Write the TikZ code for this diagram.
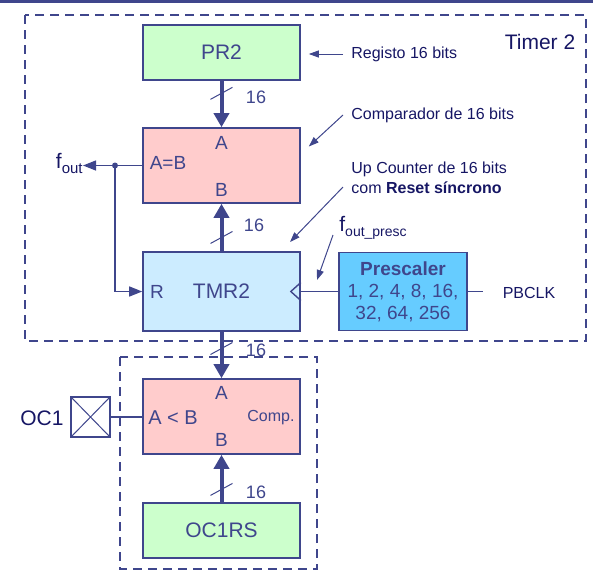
\documentclass[tikz,border=0pt]{standalone}
\usepackage{fontspec}
\setmainfont{Liberation Sans}
\usetikzlibrary{arrows.meta}

\definecolor{lineblue}{RGB}{63,70,140}
\definecolor{navy}{RGB}{22,22,100}
\definecolor{regfill}{RGB}{204,255,204}
\definecolor{cmpfill}{RGB}{255,204,204}
\definecolor{cntfill}{RGB}{204,236,255}
\definecolor{prefill}{RGB}{102,204,255}

\newcommand{\fsz}[1]{\fontsize{#1}{#1}\selectfont}

\tikzset{every picture/.style={line width=0.75pt},
  blk/.style={draw=lineblue, line width=1.6pt, text=lineblue, minimum width=157, minimum height=55, inner sep=0, font=\fsz{21}},
  frame/.style={draw=lineblue, line width=1.3pt, dash pattern=on 9pt off 6pt},
  bus/.style={draw=lineblue, line width=4pt, -{Triangle[length=14pt,width=15pt]}},
  slash/.style={draw=lineblue, line width=1pt},
  wire/.style={draw=lineblue, line width=1.4pt},
  ptr/.style={draw=lineblue, line width=1pt, -{Triangle[length=10pt,width=7pt]}},
  port/.style={text=lineblue, inner sep=0, font=\fsz{19}},
  num/.style={text=lineblue, inner sep=0, font=\fsz{18}},
  lbl/.style={text=navy, inner sep=0, font=\fsz{16}}}

\begin{document}
\begin{tikzpicture}[x=1pt,y=1pt,yscale=-1]
	\useasboundingbox (0,0) rectangle (593,571);

	% top rule
	\draw[lineblue, line width=3pt] (0,1.5) -- (593,1.5);
	% dashed frames
	\draw[frame] (25,15) rectangle (586,341);
	\draw[frame] (120,357) rectangle (317,569);

	% blocks
	\node[blk, fill=regfill] (pr2) at (221.5,52.5) {PR2};
	\node[blk, fill=cmpfill, minimum height=75] (cmp) at (221.5,165.5) {};
	\node[blk, fill=cntfill, minimum height=79] (tmr) at (221.5,291.5) {TMR2};
	\node[blk, fill=prefill, minimum width=128, minimum height=78, align=center, font=\fontsize{19}{22}\selectfont] (presc) at (403,291.5) {\textbf{Prescaler}\\1, 2, 4, 8, 16,\\32, 64, 256};
	\node[blk, fill=cmpfill, minimum height=75] (cmpb) at (221.5,416.5) {};
	\node[blk, fill=regfill] (oc1rs) at (221.5,530.5) {OC1RS};

	% port labels
	\node[port] (cmpa) at (221.5,143) {A};
	\node[port] (cmpbb) at (221.5,190) {B};
	\node[port] (aeqb) at (168,163) {A=B};
	\node[port] (rst) at (157,292) {R};
	\node[port] (cmpba) at (221.5,393) {A};
	\node[port] (cmpbbb) at (221.5,440) {B};
	\node[port, font=\fsz{20}] (altb) at (173,418) {A < B};
	\node[lbl, text=lineblue] (compl) at (271,418) {Comp.};

	% 16 bit buses
	\draw[bus] (pr2) -- coordinate[pos=.27] (s1) (cmp);
	\draw[slash] ([shift={(-11,6)}]s1) -- ([shift={(11,-6)}]s1);
	\node[num] (n1) at (256,97) {16};
	\draw[bus] (tmr) -- coordinate[pos=.29] (s2) (cmp);
	\draw[slash] ([shift={(-11,6)}]s2) -- ([shift={(11,-6)}]s2);
	\node[num] (n2) at (254,225) {16};
	\draw[bus] (tmr) -- coordinate[pos=.36] (s3) (cmpb);
	\draw[slash] ([shift={(-11,6)}]s3) -- ([shift={(11,-6)}]s3);
	\node[num] (n3) at (256,350) {16};
	\draw[bus] (oc1rs) -- coordinate[pos=.27] (s4) (cmpb);
	\draw[slash] ([shift={(-11,6)}]s4) -- ([shift={(11,-6)}]s4);
	\node[num] (n4) at (256,492) {16};

	% f_out and reset
	\node[lbl, anchor=east, font=\fsz{21}] (fout) at (83,163) {f{\fsz{15}\raisebox{-5pt}{out}}};
	\coordinate (jn) at (115,165.5);
	\draw[wire] (cmp.west) -- (jn);
	\draw[wire, -{Triangle[length=13pt,width=10pt]}] (jn) -- (jn -| fout.east);
	\fill[lineblue] (jn) circle (3);
	\draw[wire, -{Triangle[length=13pt,width=10pt]}] (jn) |- (tmr.west);

	% clock input
	\draw[wire] (presc.west) -- (tmr.east);
	\draw[wire] ([yshift=-9]tmr.east) -- ([xshift=-10]tmr.east) -- ([yshift=9]tmr.east);
	\node[lbl] (pbclk) at (529,293) {PBCLK};
	\draw[wire, shorten >=19] (presc.east) -- (presc.east -| pbclk.west);

	% OC1 pin
	\node[draw=lineblue, line width=1.2pt, minimum width=39, minimum height=40, inner sep=0] (pin) at (90.5,417) {};
	\draw[lineblue, line width=1pt] (pin.north west) -- (pin.south east) (pin.north east) -- (pin.south west);
	\node[lbl, font=\fsz{21}] (oc1) at (42,418) {OC1};
	\draw[wire] (pin.east) -- (pin.east -| cmpb.west);

	% notes
	\node[lbl, font=\fsz{21}] (tim) at (540,42) {Timer 2};
	\node[lbl, anchor=west] (reg) at (351,54) {Registo 16 bits};
	\draw[ptr] ([xshift=-8]reg.west) -- ([xshift=8]pr2.east |- reg.west);
	\node[lbl, anchor=west] (cmpnote) at (351,115) {Comparador de 16 bits};
	\draw[ptr] ([xshift=-8]cmpnote.west) -- ([shift={(8,-19)}]cmp.east);
	\node[lbl, anchor=north west, align=left, font=\fontsize{16}{20}\selectfont] (cntnote) at (351,162) {Up Counter de 16 bits\\com \textbf{Reset síncrono}};
	\coordinate (cnttail) at (343,187);
	\coordinate (cnttip) at (290,242);
	\draw[ptr] (cnttail) -- (cnttip);
	\node[lbl, anchor=west, font=\fsz{21}] (fpresc) at (339,228) {f{\fsz{14}\raisebox{-5pt}{out\_presc}}};
	\coordinate (presctail) at (333,235);
	\coordinate (presctip) at (317,280);
	\draw[ptr] (presctail) -- (presctip);

\end{tikzpicture}
\end{document}
